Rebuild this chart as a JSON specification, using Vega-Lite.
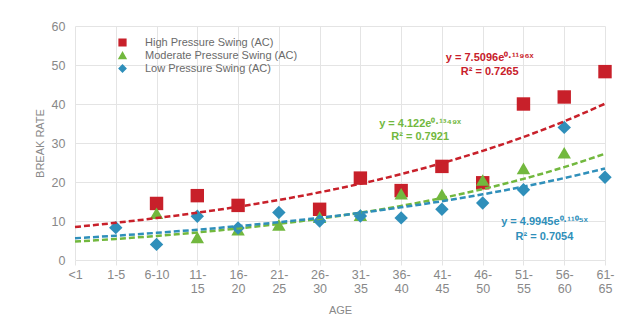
{
  "$schema": "https://vega.github.io/schema/vega-lite/v6.json",
  "autosize": {"type": "none"},
  "padding": {"left": 75, "top": 26, "right": 24, "bottom": 73},
  "width": 530,
  "height": 234,
  "background": "white",
  "config": {
    "view": {"stroke": null},
    "font": "Liberation Sans",
    "axis": {"gridColor": "#e4e4e4", "gridWidth": 1, "domain": false, "labelColor": "#888888", "titleColor": "#888888", "labelFontSize": 12.5, "titleFontSize": 11, "titleFontWeight": "normal", "tickColor": "#e4e4e4"}
  },
  "datasets": {
    "points": [
      {"age": "6-10", "series": "High Pressure Swing (AC)", "rate": 14.5},
      {"age": "11-15", "series": "High Pressure Swing (AC)", "rate": 16.5},
      {"age": "16-20", "series": "High Pressure Swing (AC)", "rate": 14},
      {"age": "26-30", "series": "High Pressure Swing (AC)", "rate": 13},
      {"age": "31-35", "series": "High Pressure Swing (AC)", "rate": 21},
      {"age": "36-40", "series": "High Pressure Swing (AC)", "rate": 17.8},
      {"age": "41-45", "series": "High Pressure Swing (AC)", "rate": 24},
      {"age": "46-50", "series": "High Pressure Swing (AC)", "rate": 19.8},
      {"age": "51-55", "series": "High Pressure Swing (AC)", "rate": 40},
      {"age": "56-60", "series": "High Pressure Swing (AC)", "rate": 41.8},
      {"age": "61-65", "series": "High Pressure Swing (AC)", "rate": 48.3},
      {"age": "6-10", "series": "Moderate Pressure Swing (AC)", "rate": 12},
      {"age": "11-15", "series": "Moderate Pressure Swing (AC)", "rate": 5.8},
      {"age": "16-20", "series": "Moderate Pressure Swing (AC)", "rate": 7.8},
      {"age": "21-25", "series": "Moderate Pressure Swing (AC)", "rate": 9},
      {"age": "26-30", "series": "Moderate Pressure Swing (AC)", "rate": 11},
      {"age": "31-35", "series": "Moderate Pressure Swing (AC)", "rate": 11.5},
      {"age": "36-40", "series": "Moderate Pressure Swing (AC)", "rate": 17},
      {"age": "41-45", "series": "Moderate Pressure Swing (AC)", "rate": 16.8},
      {"age": "46-50", "series": "Moderate Pressure Swing (AC)", "rate": 20.5},
      {"age": "51-55", "series": "Moderate Pressure Swing (AC)", "rate": 23.5},
      {"age": "56-60", "series": "Moderate Pressure Swing (AC)", "rate": 27.5},
      {"age": "1-5", "series": "Low Pressure Swing (AC)", "rate": 8.3},
      {"age": "6-10", "series": "Low Pressure Swing (AC)", "rate": 4},
      {"age": "11-15", "series": "Low Pressure Swing (AC)", "rate": 11.2},
      {"age": "16-20", "series": "Low Pressure Swing (AC)", "rate": 8.2},
      {"age": "21-25", "series": "Low Pressure Swing (AC)", "rate": 12.2},
      {"age": "26-30", "series": "Low Pressure Swing (AC)", "rate": 10},
      {"age": "31-35", "series": "Low Pressure Swing (AC)", "rate": 11.3},
      {"age": "36-40", "series": "Low Pressure Swing (AC)", "rate": 10.8},
      {"age": "41-45", "series": "Low Pressure Swing (AC)", "rate": 13},
      {"age": "46-50", "series": "Low Pressure Swing (AC)", "rate": 14.6},
      {"age": "51-55", "series": "Low Pressure Swing (AC)", "rate": 18},
      {"age": "56-60", "series": "Low Pressure Swing (AC)", "rate": 34},
      {"age": "61-65", "series": "Low Pressure Swing (AC)", "rate": 21.2}
    ],
    "trends": [
      {"age": "<1", "series": "High Pressure Swing (AC)", "fit": 8.46},
      {"age": "1-5", "series": "High Pressure Swing (AC)", "fit": 9.54},
      {"age": "6-10", "series": "High Pressure Swing (AC)", "fit": 10.75},
      {"age": "11-15", "series": "High Pressure Swing (AC)", "fit": 12.12},
      {"age": "16-20", "series": "High Pressure Swing (AC)", "fit": 13.66},
      {"age": "21-25", "series": "High Pressure Swing (AC)", "fit": 15.39},
      {"age": "26-30", "series": "High Pressure Swing (AC)", "fit": 17.35},
      {"age": "31-35", "series": "High Pressure Swing (AC)", "fit": 19.55},
      {"age": "36-40", "series": "High Pressure Swing (AC)", "fit": 22.03},
      {"age": "41-45", "series": "High Pressure Swing (AC)", "fit": 24.83},
      {"age": "46-50", "series": "High Pressure Swing (AC)", "fit": 27.99},
      {"age": "51-55", "series": "High Pressure Swing (AC)", "fit": 31.54},
      {"age": "56-60", "series": "High Pressure Swing (AC)", "fit": 35.55},
      {"age": "61-65", "series": "High Pressure Swing (AC)", "fit": 40.07},
      {"age": "<1", "series": "Moderate Pressure Swing (AC)", "fit": 4.72},
      {"age": "1-5", "series": "Moderate Pressure Swing (AC)", "fit": 5.4},
      {"age": "6-10", "series": "Moderate Pressure Swing (AC)", "fit": 6.18},
      {"age": "11-15", "series": "Moderate Pressure Swing (AC)", "fit": 7.07},
      {"age": "16-20", "series": "Moderate Pressure Swing (AC)", "fit": 8.09},
      {"age": "21-25", "series": "Moderate Pressure Swing (AC)", "fit": 9.26},
      {"age": "26-30", "series": "Moderate Pressure Swing (AC)", "fit": 10.6},
      {"age": "31-35", "series": "Moderate Pressure Swing (AC)", "fit": 12.13},
      {"age": "36-40", "series": "Moderate Pressure Swing (AC)", "fit": 13.88},
      {"age": "41-45", "series": "Moderate Pressure Swing (AC)", "fit": 15.88},
      {"age": "46-50", "series": "Moderate Pressure Swing (AC)", "fit": 18.18},
      {"age": "51-55", "series": "Moderate Pressure Swing (AC)", "fit": 20.8},
      {"age": "56-60", "series": "Moderate Pressure Swing (AC)", "fit": 23.81},
      {"age": "61-65", "series": "Moderate Pressure Swing (AC)", "fit": 27.25},
      {"age": "<1", "series": "Low Pressure Swing (AC)", "fit": 5.58},
      {"age": "1-5", "series": "Low Pressure Swing (AC)", "fit": 6.23},
      {"age": "6-10", "series": "Low Pressure Swing (AC)", "fit": 6.96},
      {"age": "11-15", "series": "Low Pressure Swing (AC)", "fit": 7.77},
      {"age": "16-20", "series": "Low Pressure Swing (AC)", "fit": 8.68},
      {"age": "21-25", "series": "Low Pressure Swing (AC)", "fit": 9.69},
      {"age": "26-30", "series": "Low Pressure Swing (AC)", "fit": 10.83},
      {"age": "31-35", "series": "Low Pressure Swing (AC)", "fit": 12.09},
      {"age": "36-40", "series": "Low Pressure Swing (AC)", "fit": 13.5},
      {"age": "41-45", "series": "Low Pressure Swing (AC)", "fit": 15.08},
      {"age": "46-50", "series": "Low Pressure Swing (AC)", "fit": 16.84},
      {"age": "51-55", "series": "Low Pressure Swing (AC)", "fit": 18.81},
      {"age": "56-60", "series": "Low Pressure Swing (AC)", "fit": 21.01},
      {"age": "61-65", "series": "Low Pressure Swing (AC)", "fit": 23.46}
    ],
    "labels": [
      {"age": "46-50", "series": "High Pressure Swing (AC)", "pos": 51.8, "text": "y = 7.5096e⁰·¹¹⁹⁶ˣ", "shift": 7},
      {"age": "46-50", "series": "High Pressure Swing (AC)", "pos": 48.2, "text": "R² = 0.7265", "shift": 7},
      {"age": "36-40", "series": "Moderate Pressure Swing (AC)", "pos": 34.9, "text": "y = 4.122e⁰·¹³⁴⁹ˣ", "shift": 19},
      {"age": "36-40", "series": "Moderate Pressure Swing (AC)", "pos": 31.5, "text": "R² = 0.7921", "shift": 19},
      {"age": "51-55", "series": "Low Pressure Swing (AC)", "pos": 9.7, "text": "y = 4.9945e⁰·¹¹⁰⁵ˣ", "shift": 21},
      {"age": "51-55", "series": "Low Pressure Swing (AC)", "pos": 5.9, "text": "R² = 0.7054", "shift": 21}
    ]
  },
  "encoding": {
    "x": {
      "field": "age", "type": "ordinal",
      "scale": {"type": "point", "padding": 0, "domain": ["<1", "1-5", "6-10", "11-15", "16-20", "21-25", "26-30", "31-35", "36-40", "41-45", "46-50", "51-55", "56-60", "61-65"]},
      "axis": {"title": "AGE", "labelAngle": 0, "grid": true, "ticks": true, "tickSize": 5, "labelPadding": 3, "titlePadding": 10, "labelLineHeight": 14,
        "labelExpr": "length(datum.label) > 4 ? [substring(datum.label, 0, indexof(datum.label, '-') + 1), substring(datum.label, indexof(datum.label, '-') + 1)] : datum.label"}
    }
  },
  "layer": [
    {
      "data": {"name": "points"},
      "mark": {"type": "point", "filled": true, "opacity": 1, "size": 180},
      "encoding": {
        "y": {"field": "rate", "type": "quantitative", "scale": {"domain": [0, 60]}, "axis": {"title": "BREAK RATE", "values": [0, 10, 20, 30, 40, 50, 60], "labelOverlap": false, "ticks": false, "labelPadding": 10, "titlePadding": 6}},
        "color": {"field": "series", "type": "nominal",
          "scale": {"domain": ["High Pressure Swing (AC)", "Moderate Pressure Swing (AC)", "Low Pressure Swing (AC)"], "range": ["#c8202a", "#72b83e", "#2f8fba"]},
          "legend": {"title": null, "orient": "none", "legendX": 42, "legendY": 11, "labelFontSize": 11, "labelColor": "#6a6a6a", "symbolSize": 45, "labelOffset": 17, "rowPadding": 0, "padding": 0, "labelFont": "Liberation Sans"}},
        "shape": {"field": "series", "type": "nominal",
          "scale": {"domain": ["High Pressure Swing (AC)", "Moderate Pressure Swing (AC)", "Low Pressure Swing (AC)"], "range": ["square", "triangle-up", "diamond"]}}
      }
    },
    {
      "data": {"name": "trends"},
      "mark": {"type": "line", "strokeDash": [6, 3], "strokeWidth": 2.5, "interpolate": "monotone"},
      "encoding": {
        "y": {"field": "fit", "type": "quantitative", "scale": {"domain": [0, 60]}, "axis": {"title": "BREAK RATE", "values": [0, 10, 20, 30, 40, 50, 60], "labelOverlap": false, "ticks": false, "labelPadding": 10, "titlePadding": 6}},
        "color": {"field": "series", "type": "nominal", "legend": null,
          "scale": {"domain": ["High Pressure Swing (AC)", "Moderate Pressure Swing (AC)", "Low Pressure Swing (AC)"], "range": ["#c8202a", "#72b83e", "#2f8fba"]}}
      }
    },
    {
      "data": {"name": "labels"},
      "mark": {"type": "text", "fontSize": 11, "fontWeight": "bold", "align": "center", "baseline": "middle"},
      "encoding": {
        "y": {"field": "pos", "type": "quantitative", "scale": {"domain": [0, 60]}, "axis": {"title": "BREAK RATE", "values": [0, 10, 20, 30, 40, 50, 60], "labelOverlap": false, "ticks": false, "labelPadding": 10, "titlePadding": 6}},
        "text": {"field": "text"},
        "xOffset": {"field": "shift", "type": "quantitative", "scale": null},
        "color": {"field": "series", "type": "nominal", "legend": null,
          "scale": {"domain": ["High Pressure Swing (AC)", "Moderate Pressure Swing (AC)", "Low Pressure Swing (AC)"], "range": ["#c8202a", "#72b83e", "#2f8fba"]}}
      }
    }
  ]
}
